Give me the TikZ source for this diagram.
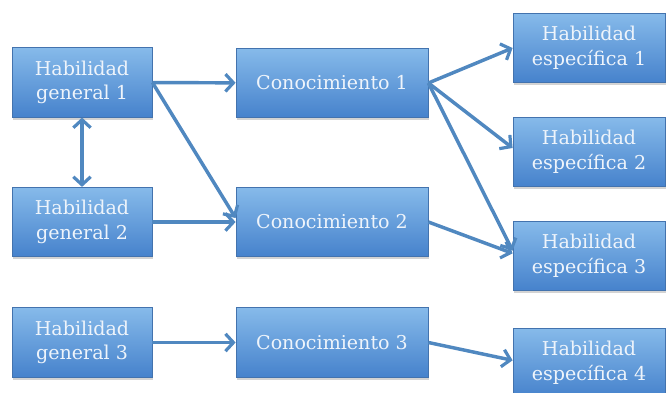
\documentclass[tikz,border=0pt]{standalone}
\usepackage{fontspec}
\setmainfont{DejaVu Serif}
\usetikzlibrary{arrows.meta,shadows}

\definecolor{boxtop}{HTML}{86BAEA}
\definecolor{boxbot}{HTML}{4682CC}
\definecolor{boxline}{HTML}{4373AE}
\definecolor{arrowcol}{HTML}{5088C0}
\definecolor{boxtext}{HTML}{EEF4FB}

\tikzset{
  hbox/.style={draw=boxline,line width=0.6pt,top color=boxtop,bottom color=boxbot,
    text=boxtext,align=center,font=\fontsize{14.3}{18.5}\selectfont,
    inner sep=0pt,
    drop shadow={shadow xshift=1pt,shadow yshift=-2pt,opacity=0.35}},
  conn/.style={draw=arrowcol,line width=2.6pt,-{Straight Barb[length=6pt,width=13pt,line width=2.4pt]}},
}

\begin{document}
\begin{tikzpicture}[x=0.75pt,y=-0.75pt]
  \useasboundingbox (0,0) rectangle (666,392);
  \node[hbox,minimum width=105pt,minimum height=52pt] (HG1) at (82,82.5) {Habilidad\\general 1};
  \node[hbox,minimum width=105pt,minimum height=52pt] (HG2) at (82,222) {Habilidad\\general 2};
  \node[hbox,minimum width=105pt,minimum height=52pt] (HG3) at (82,342.5) {Habilidad\\general 3};
  \node[hbox,minimum width=144pt,minimum height=52pt] (C1) at (332,83) {Conocimiento 1};
  \node[hbox,minimum width=144pt,minimum height=52pt] (C2) at (332,222) {Conocimiento 2};
  \node[hbox,minimum width=144pt,minimum height=52pt] (C3) at (332,342.5) {Conocimiento 3};
  \node[hbox,minimum width=114pt,minimum height=52pt] (HE1) at (589,48) {Habilidad\\específica 1};
  \node[hbox,minimum width=114pt,minimum height=52pt] (HE2) at (589,152) {Habilidad\\específica 2};
  \node[hbox,minimum width=114pt,minimum height=52pt] (HE3) at (589,256) {Habilidad\\específica 3};
  \node[hbox,minimum width=114pt,minimum height=52pt] (HE4) at (589,363) {Habilidad\\específica 4};
  % general -> conocimiento
  \draw[conn] (HG1) -- (C1);
  \draw[conn] (HG1.east) -- ([yshift=3pt]C2.west);
  \draw[conn] (HG2) -- (C2);
  \draw[conn] (HG3) -- (C3);
  \draw[conn,{Straight Barb[length=6pt,width=13pt,line width=2.4pt]}-{Straight Barb[length=6pt,width=13pt,line width=2.4pt]}] (HG1) -- (HG2);
  % conocimiento -> especifica
  \draw[conn] (C1.east) -- (HE1.west);
  \draw[conn] (C1.east) -- ([yshift=3pt]HE2.west);
  \draw[conn] (C1.east) -- ([yshift=4pt]HE3.west);
  \draw[conn] (C2.east) -- ([yshift=2pt]HE3.west);
  \draw[conn] (C3.east) -- ([yshift=2pt]HE4.west);
\end{tikzpicture}
\end{document}
